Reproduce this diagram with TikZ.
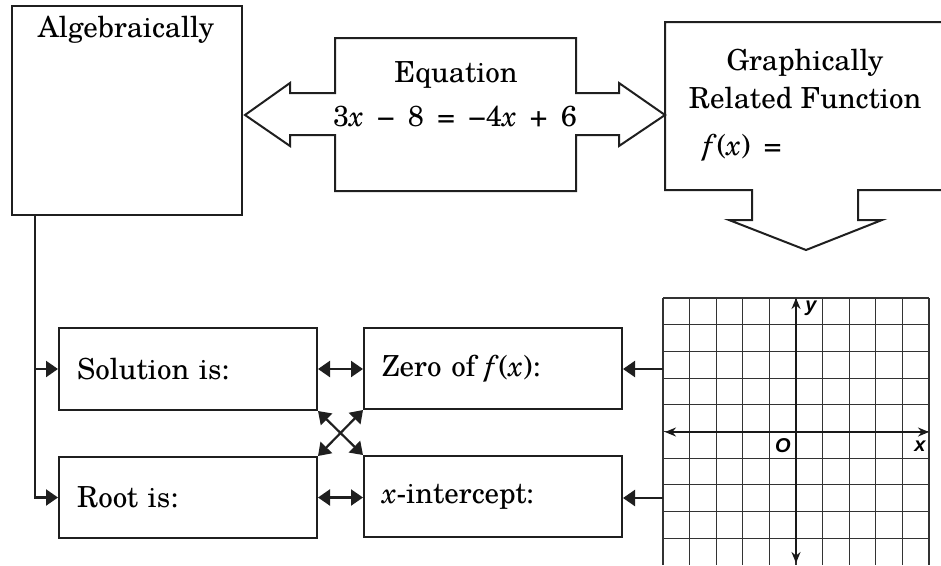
\documentclass[tikz,border=0pt]{standalone}
\usepackage{fontspec}
\setmainfont{TeX Gyre Schola}
\newfontfamily\axisfont{Liberation Sans}
\usetikzlibrary{arrows.meta}
\newcommand{\opsp}{\hspace{0.46em}}
\begin{document}
\begin{tikzpicture}[x=1pt,y=-1pt, line join=miter,
  box/.style={draw=black!88, line width=2pt, rectangle, inner sep=0pt},
  shp/.style={draw=black!88, line width=2pt},
  lbl/.style={font=\fontsize{29}{34}\selectfont, inner sep=0pt},
  conn/.style={draw=black!88, line width=2.2pt, -{Triangle[length=12pt,width=16pt]}},
  dconn/.style={draw=black!88, line width=2.2pt, {Triangle[length=12pt,width=16pt]}-{Triangle[length=12pt,width=16pt]}},
  gridl/.style={draw=black!80, line width=1.1pt},
  axis/.style={draw=black!90, line width=2.4pt},
  axlbl/.style={font=\axisfont\bfseries\itshape\fontsize{20}{24}\selectfont, inner sep=0pt},
]
\useasboundingbox (0,0) rectangle (941,565);

% Algebraically box
\node[box, minimum width=230pt, minimum height=209pt] (alg) at (127,110.5) {};
\node[lbl] (algt) at (126,30) {Algebraically};

% Equation double block arrow
\draw[shp] (245,115) -- (290,83) -- (290,93) -- (335,93) -- (335,38) -- (576,38) -- (576,93)
  -- (619,93) -- (619,83) -- (665,115) -- (619,146) -- (619,135) -- (576,135) -- (576,191)
  -- (335,191) -- (335,135) -- (290,135) -- (290,146) -- cycle;
\node[lbl] (eqt) at (456,75) {Equation};
\node[lbl] (eqn) at (455,117) {3\textit{x}\opsp−\opsp8\opsp=\opsp−4\textit{x}\opsp+\opsp6};

% Graphically box with down arrow
\draw[shp] (941,22) -- (665,22) -- (665,190) -- (752,190) -- (752,220) -- (729,220) -- (806,250)
  -- (882,220) -- (858,220) -- (858,190) -- (941,190);
\node[lbl] (grt) at (805,63) {Graphically};
\node[lbl] (rft) at (805,98) {Related Function};
\node[lbl, anchor=west] (fxt) at (703,148) {\textit{f}(\textit{x})\opsp=};

% lower boxes
\node[box, minimum width=258pt, minimum height=82pt, text width=222pt, align=left, lbl, inner sep=0pt] (sol) at (188,369) {Solution is:};
\node[box, minimum width=258pt, minimum height=81pt, text width=222pt, align=left, lbl, inner sep=0pt] (root) at (188,497.5) {Root is:};
\node[box, minimum width=258pt, minimum height=81pt, text width=222pt, align=left, lbl, inner sep=0pt] (zero) at (493,368.5) {Zero of \textit{f}(\textit{x}):};
\node[box, minimum width=258pt, minimum height=81pt, text width=222pt, align=left, lbl, inner sep=0pt] (xint) at (493,496.5) {\textit{x}-intercept:};

% trunk from Algebraically
\coordinate (trunk) at (35,215);
\draw[conn] (trunk) |- (root.west);
\draw[conn] (trunk |- sol.west) -- (sol.west);

% horizontal double arrows
\draw[dconn] (sol.east) -- (sol.east -| zero.west);
\draw[dconn] (root.east) -- (root.east -| xint.west);
% crossing arrows
\draw[dconn] (sol.south east) -- (xint.north west);
\draw[dconn] (zero.south west) -- (root.north east);

% grid
\foreach \i in {0,...,10} {
  \draw[gridl] (663+26.6*\i,298) -- (663+26.6*\i,565);
}
\foreach \j in {0,...,9} {
  \draw[gridl] (663,298+26.7*\j) -- (929,298+26.7*\j);
}
\coordinate (gl1) at (663,369);
\coordinate (gl2) at (663,498);
\draw[conn] (gl1) -- (gl1 -| zero.east);
\draw[conn] (gl2) -- (gl2 -| xint.east);

% axes
\coordinate (xl) at (665,432);
\coordinate (xr) at (929,432);
\coordinate (yt) at (796,298);
\coordinate (yb) at (796,563);
\draw[axis, {Stealth[length=11pt,width=9pt]}-{Stealth[length=11pt,width=9pt]}] (xl) -- (xr);
\draw[axis, {Stealth[length=11pt,width=9pt]}-{Stealth[length=11pt,width=9pt]}] (yb) -- (yt);
\node[axlbl] (ylab) at (811,308) {y};
\node[axlbl] (olab) at (783,446) {O};
\node[axlbl] (xlab) at (920,446) {x};
\end{tikzpicture}
\end{document}
